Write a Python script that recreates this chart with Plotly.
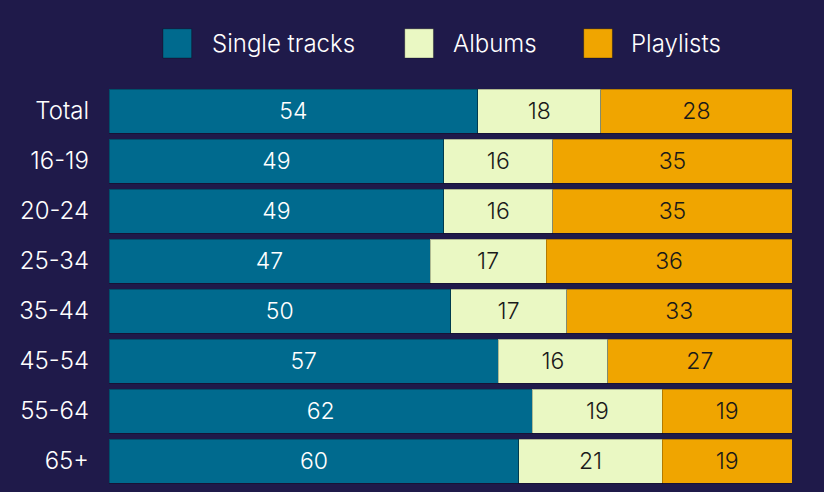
import plotly.graph_objects as go

groups = ["Total", "16-19", "20-24", "25-34", "35-44", "45-54", "55-64", "65+"]
single_tracks = [54, 49, 49, 47, 50, 57, 62, 60]
albums = [18, 16, 16, 17, 17, 16, 19, 21]
playlists = [28, 35, 35, 36, 33, 27, 19, 19]

bg = "#1f1a4a"
font = "Inter"
wt = 350
series = [
    ("Single tracks", single_tracks, "#006a8e", "white"),
    ("Albums", albums, "#eaf8c3", "#1a1a1a"),
    ("Playlists", playlists, "#f0a500", "#1a1a1a"),
]

fig = go.Figure()
for name, vals, col, tcol in series:
    fig.add_trace(go.Bar(
        y=groups, x=vals, name=name, orientation="h",
        marker=dict(color=col, line=dict(color="rgba(0,0,0,0.25)", width=1)),
        text=vals, textposition="inside", insidetextanchor="middle",
        textangle=0, textfont=dict(size=23, color=tcol, family=font, weight=wt),
        showlegend=False,
    ))

# legend drawn by hand so the swatches can be big squares
# (paper x of swatch, paper x of label)
legend_pos = [(0.079, 0.148), (0.433, 0.501), (0.695, 0.761)]
for (name, vals, col, tcol), (sx, lx) in zip(series, legend_pos):
    fig.add_shape(type="rect", xref="paper", yref="paper",
                  x0=sx, x1=sx + 0.042, y0=1.07, y1=1.143,
                  fillcolor=col, line=dict(color="rgba(0,0,0,0.3)", width=1))
    fig.add_annotation(text=name, xref="paper", yref="paper", x=lx, y=1.107,
                       xanchor="left", yanchor="middle", showarrow=False,
                       font=dict(size=24, color="white", family=font, weight=wt))

fig.update_layout(
    barmode="stack", bargap=0.12,
    width=824, height=492,
    paper_bgcolor=bg, plot_bgcolor=bg,
    font=dict(family=font, size=23, color="white"),
    margin=dict(l=109, r=32, t=86, b=6),
    uniformtext=dict(minsize=23, mode="show"),
    xaxis=dict(visible=False, range=[0, 100]),
    yaxis=dict(autorange="reversed", showgrid=False, ticks="", ticklabelstandoff=19,
               tickfont=dict(size=24, color="white", family=font, weight=wt)),
)

fig.write_html("out.html", config={"displayModeBar": False},
               post_script="document.body.style.margin='0';")
